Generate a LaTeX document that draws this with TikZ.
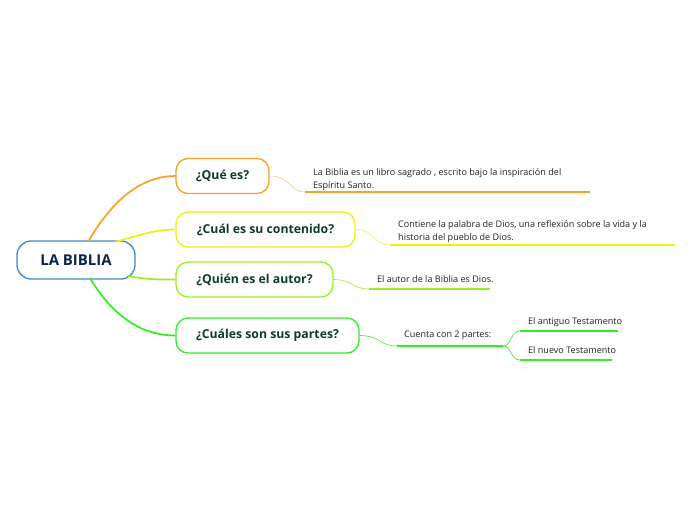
\documentclass[tikz,border=0pt]{standalone}
\usepackage{fontspec}
\setmainfont{Open Sans}
\definecolor{cblue}{HTML}{3A8BCB}
\definecolor{corange}{HTML}{F7A128}
\definecolor{cyellow}{HTML}{F0F010}
\definecolor{clgreen}{HTML}{99EE22}
\definecolor{cgreen}{HTML}{33EE22}
\definecolor{ctxt}{HTML}{0E3B2E}
\definecolor{cnavy}{HTML}{0B2250}
\definecolor{csub}{HTML}{222222}
\tikzset{
  central/.style={draw=cblue, line width=1.3bp, fill=white, rounded corners=14bp, minimum width=118bp, minimum height=38bp, text=cnavy, font=\fontsize{15}{17}\selectfont\bfseries, inner sep=0pt},
  topic/.style={draw=#1, line width=1.3bp, fill=white, rounded corners=12bp, minimum height=35bp, text=ctxt, font=\fontsize{12.3}{14}\selectfont\bfseries, inner sep=0pt},
  subtxt/.style={anchor=north west, inner sep=0pt, align=left, text=csub, font=\fontsize{9.1}{13}\selectfont},
  branch/.style={draw=#1, line width=1.7bp},
  thin/.style={draw=#1, line width=0.6bp},
  uline/.style={draw=#1, line width=2.2bp},
}
\begin{document}
\begin{tikzpicture}[x=1bp, y=-1bp]
\useasboundingbox (0,0) rectangle (696,520);
\fill[white] (0,0) rectangle (696,520);
% branch start points on central node
\coordinate (b1) at (88,242);
\coordinate (b2) at (115,242);
\coordinate (b3) at (128,276);
\coordinate (b4) at (90,278);
% central
\node[central] (c) at (76,260) {LA BIBLIA};
% topics
\node[topic=corange, minimum width=93bp] (q1) at (222.5,176) {¿Qué es?};
\node[topic=cyellow, minimum width=179bp] (q2) at (265.5,229.5) {¿Cuál es su contenido?};
\node[topic=clgreen, minimum width=157bp] (q3) at (254.5,279.5) {¿Quién es el autor?};
\node[topic=cgreen, minimum width=183bp] (q4) at (267.5,335.5) {¿Cuáles son sus partes?};
\draw[branch=corange] (b1) .. controls (115,195) and (145,176) .. (q1.west);
\draw[branch=cyellow] (b2) .. controls (140,235) and (155,229.5) .. (q2.west);
\draw[branch=clgreen] (b3) .. controls (150,280) and (160,279.5) .. (q3.west);
\draw[branch=cgreen] (b4) .. controls (115,320) and (145,335.5) .. (q4.west);
% sub topic 1
\coordinate (u1a) at (305,192);
\coordinate (u1b) at (590,192);
\node[subtxt] (t1) at (313,168) {La Biblia es un libro sagrado , escrito bajo la inspiración del\\Espíritu Santo.};
\draw[thin=corange!60] (q1.east) .. controls (290,176) and (290,192) .. (u1a);
\draw[uline=corange] (u1a) -- (u1b);
% sub topic 2
\coordinate (u2a) at (390,245);
\coordinate (u2b) at (675,245);
\node[subtxt] (t2) at (398,220) {Contiene la palabra de Dios, una reflexión sobre la vida y la\\historia del pueblo de Dios.};
\draw[thin=cyellow!70] (q2.east) .. controls (375,229.5) and (372,245) .. (u2a);
\draw[uline=cyellow] (u2a) -- (u2b);
% sub topic 3
\coordinate (u3a) at (369,289);
\coordinate (u3b) at (490,289);
\node[subtxt] (t3) at (377,275) {El autor de la Biblia es Dios.};
\draw[thin=clgreen] (q3.east) .. controls (352,279.5) and (352,289) .. (u3a);
\draw[uline=clgreen] (u3a) -- (u3b);
% sub topic 4
\coordinate (u4a) at (397,346);
\coordinate (u4b) at (503,346);
\node[subtxt] (t4) at (404,331) {Cuenta con 2 partes:};
\draw[thin=cgreen] (q4.east) .. controls (380,335.5) and (380,346) .. (u4a);
\draw[uline=cgreen] (u4a) -- (u4b);
\coordinate (u5a) at (520,331);
\coordinate (u5b) at (618,331);
\coordinate (u6a) at (520,360);
\coordinate (u6b) at (612,360);
\node[subtxt] (t5) at (528,317) {El antiguo Testamento};
\node[subtxt] (t6) at (528,346) {El nuevo Testamento};
\draw[thin=cgreen] (u4b) .. controls (512,346) and (510,331) .. (u5a);
\draw[thin=cgreen] (u4b) .. controls (512,346) and (510,360) .. (u6a);
\draw[uline=cgreen] (u5a) -- (u5b);
\draw[uline=cgreen] (u6a) -- (u6b);
\end{tikzpicture}
\end{document}
